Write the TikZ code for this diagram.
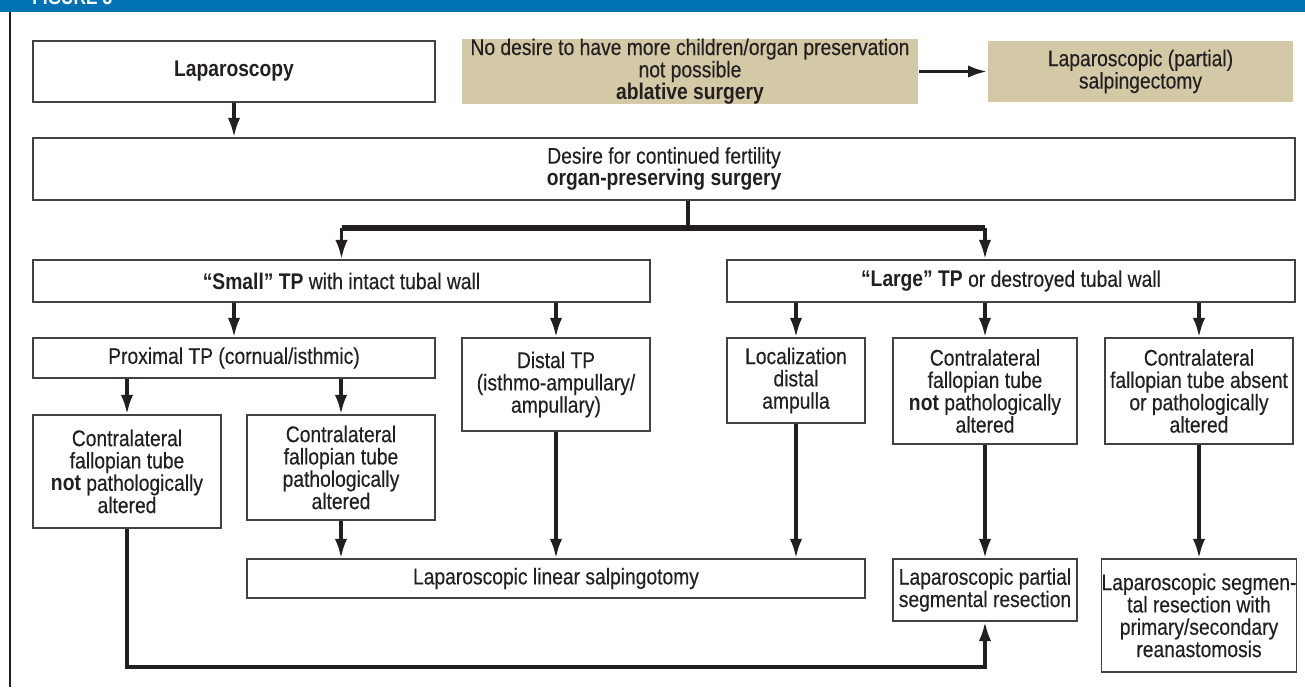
\documentclass[tikz,border=0pt]{standalone}
\usepackage{fontspec}
\setmainfont{Liberation Sans}[FakeStretch=0.85, UprightFeatures={FakeBold=0.35}]
\usepackage{tikz}
\usetikzlibrary{arrows.meta}

\definecolor{figblue}{RGB}{0,114,180}
\definecolor{boxtan}{RGB}{211,201,166}
\definecolor{ink}{RGB}{35,31,32}

\begin{document}
\begin{tikzpicture}[
    x=0.02cm, y=-0.02cm,
    box/.style={draw=ink!85, line width=0.8pt, align=center, inner sep=0pt, text=ink, font=\fontsize{12.9}{12.7}\selectfont},
    tanbox/.style={box, draw=none, fill=boxtan},
    conn/.style={-{Latex[length=11pt,width=7pt]}, line width=1.9pt, ink},
    branch/.style={line width=3pt, ink}
]
\useasboundingbox (0,0) rectangle (1305,687);

% header band and frame
\fill[figblue] (0,0) rectangle (1305,12);
\begin{scope}
\clip (0,0) rectangle (1305,12);
\node[anchor=base west, inner sep=0pt, text=white, font=\bfseries\fontsize{11.6}{12}\selectfont] (title) at (32,4.5) {FIGURE 3};
\end{scope}
\draw[ink, line width=1.2pt] (10,12) -- (10,687);

% top row
\node[box, minimum width=8.04cm, minimum height=1.22cm] (lap) at (234,71.5) {\bfseries Laparoscopy};
\node[tanbox, minimum width=9.12cm, minimum height=1.22cm] (nodesire) at (690,71.5) {No desire to have more children/organ preservation\\ not possible\\ \bfseries ablative surgery};
\node[tanbox, minimum width=6.1cm, minimum height=1.22cm] (salp) at (1140.5,71.5) {Laparoscopic (partial)\\ salpingectomy};

\node[box, minimum width=25.24cm, minimum height=1.24cm] (desire) at (664,169) {Desire for continued fertility\\ \bfseries organ-preserving surgery};

% size of the TP
\node[box, minimum width=12.34cm, minimum height=0.84cm] (small) at (341.5,281) {\textbf{“Small” TP} with intact tubal wall};
\node[box, minimum width=11.36cm, minimum height=0.84cm] (large) at (1011,281) {\textbf{“Large” TP} or destroyed tubal wall};

% localization
\node[box, minimum width=8.04cm, minimum height=0.8cm] (prox) at (234,358) {Proximal TP (cornual/isthmic)};
\node[box, minimum width=3.76cm, minimum height=1.86cm] (distal) at (556,384.5) {Distal TP\\ (isthmo-ampullary/\\ ampullary)};
\node[box, minimum width=2.76cm, minimum height=1.7cm] (loc) at (796,380.5) {Localization\\ distal\\ ampulla};
\node[box, minimum width=3.68cm, minimum height=2.12cm] (cnotL) at (985,391) {Contralateral\\ fallopian tube\\ \textbf{not} pathologically\\ altered};
\node[box, minimum width=3.76cm, minimum height=2.12cm] (cabs) at (1199,391) {Contralateral\\ fallopian tube absent\\ or pathologically\\ altered};

\node[box, minimum width=3.76cm, minimum height=2.26cm] (cnotS) at (127,471.5) {Contralateral\\ fallopian tube\\ \textbf{not} pathologically\\ altered};
\node[box, minimum width=3.76cm, minimum height=2.1cm] (cpat) at (341,467.5) {Contralateral\\ fallopian tube\\ pathologically\\ altered};

% surgery
\node[box, minimum width=12.36cm, minimum height=0.78cm] (linear) at (556,578.5) {Laparoscopic linear salpingotomy};
\node[box, minimum width=3.68cm, minimum height=1.24cm] (partial) at (985,590) {Laparoscopic partial\\ segmental resection};
\node[box, minimum width=3.76cm, minimum height=2.26cm] (segm) at (1199,615.5) {Laparoscopic segmen-\\ tal resection with\\ primary/secondary\\ reanastomosis};

% connectors
\draw[conn] (lap) -- (lap |- desire.north);
\draw[conn] (nodesire) -- (salp);

\coordinate (split) at (688,228);
\draw[line width=1.9pt, ink] (desire.south -| split) -- (split);
\draw[branch] (small.north |- split) -- (cnotL |- split);
\draw[conn] (small.north |- split) -- (small.north);
\draw[conn] (cnotL |- split) -- (large.north -| cnotL);

\draw[conn] (small.south -| prox) -- (prox);
\draw[conn] (small.south -| distal) -- (distal);
\draw[conn] (large.south -| loc) -- (loc);
\draw[conn] (large.south -| cnotL) -- (cnotL);
\draw[conn] (large.south -| cabs) -- (cabs);

\draw[conn] (prox.south -| cnotS) -- (cnotS);
\draw[conn] (prox.south -| cpat) -- (cpat);

\draw[conn] (cpat) -- (cpat |- linear.north);
\draw[conn] (distal) -- (linear);
\draw[conn] (loc) -- (loc |- linear.north);
\draw[conn] (cnotL) -- (partial);
\draw[conn] (cabs) -- (segm);

\coordinate (loop) at (127,667);
\draw[conn] (cnotS) -- (loop) -| (partial);
\end{tikzpicture}
\end{document}
